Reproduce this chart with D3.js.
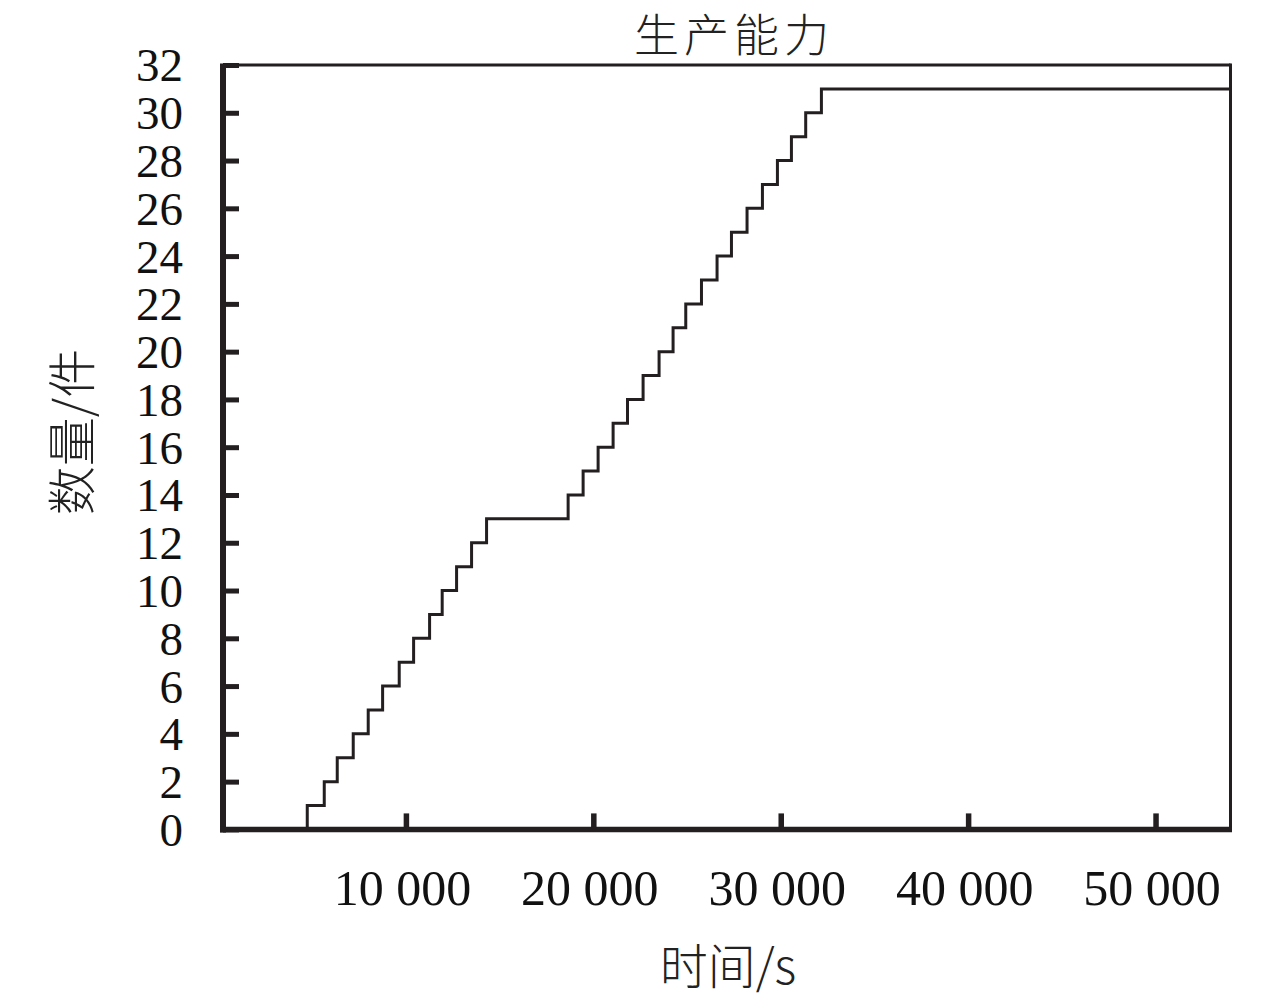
<!DOCTYPE html>
<html><head><meta charset="utf-8">
<script src="https://cdn.jsdelivr.net/npm/d3@7"></script>
<style>body{margin:0;background:#fff;} svg{display:block;}</style>
</head><body>
<svg id="chart" width="1280" height="1002"></svg>
<script>
// Time (s) at which each count level is reached
const stepTimes = [240, 4736, 5643, 6336, 7189, 7989, 8757, 9643, 10411, 11264, 11936, 12704, 13504, 14304,
  18656, 19456, 20256, 21056, 21824, 22656, 23509, 24256, 24933, 25771, 26603, 27371, 28203, 29024, 29824, 30571, 31333, 32171, 54000];
const stepCounts = [0, 1, 2, 3, 4, 5, 6, 7, 8, 9, 10, 11, 12, 13,
  14, 15, 16, 17, 18, 19, 20, 21, 22, 23, 24, 25, 26, 27, 28, 29, 30, 31, 31];
const xTickValues = [10000, 20000, 30000, 40000, 50000];
const yTickValues = [0, 2, 4, 6, 8, 10, 12, 14, 16, 18, 20, 22, 24, 26, 28, 30, 32];
const titleText = "生产能力";
const xTitle = "时间/s";
const yTitle = "数量/件";

const ink = "#231f20";
const svg = d3.select("#chart");
const L = 223, R = 1230.5, T = 65, B = 829.4;
const x = d3.scaleLinear().domain([240, 54000]).range([L, R]);
const y = d3.scaleLinear().domain([0, 32]).range([B, T]);
const serif = "'Liberation Serif', 'Times New Roman', serif";
const cjk = "'Noto Sans CJK SC', sans-serif";

// frame: top and right
svg.append("line").attr("x1", L).attr("x2", R).attr("y1", T).attr("y2", T)
  .attr("stroke", ink).attr("stroke-width", 3);
svg.append("line").attr("x1", R).attr("x2", R).attr("y1", T - 1.5).attr("y2", B + 2)
  .attr("stroke", ink).attr("stroke-width", 3);

// data line
const pts = stepTimes.map((t, i) => [t, stepCounts[i]]);
svg.append("path").datum(pts)
  .attr("d", d3.line().x(d => x(d[0])).y(d => y(d[1])).curve(d3.curveStepAfter))
  .attr("fill", "none").attr("stroke", ink).attr("stroke-width", 3);

// y axis
const yAxis = svg.append("g").attr("transform", `translate(${L},0)`)
  .call(d3.axisLeft(y).tickValues(yTickValues).tickSize(-16).tickPadding(40).tickFormat(d3.format("d")));
yAxis.select(".domain").attr("stroke", ink).attr("stroke-width", 6)
  .attr("d", `M0,${T - 1.5}V${B + 3}`);
yAxis.selectAll(".tick line").attr("stroke", ink).attr("stroke-width", 5);
yAxis.selectAll(".tick text").attr("fill", "#111").style("font-family", serif).style("font-size", "47px")
  .attr("dy", "0.34em");

// x axis
const xAxis = svg.append("g").attr("transform", `translate(0,${B})`)
  .call(d3.axisBottom(x).tickValues(xTickValues).tickSize(-16).tickPadding(40)
    .tickFormat(d => d3.format(",")(d).replace(",", " ")));
xAxis.select(".domain").attr("stroke", ink).attr("stroke-width", 5.5)
  .attr("d", `M${L - 3},0H${R + 1.5}`);
xAxis.selectAll(".tick text").attr("fill", "#111").style("font-family", serif).style("font-size", "50px")
  .attr("dx", "-4");
xAxis.selectAll(".tick line").attr("stroke", ink).attr("stroke-width", 5.5);

// titles
svg.append("text").attr("x", 734).attr("y", 52).attr("text-anchor", "middle")
  .style("font-family", cjk).style("font-size", "45px").style("font-weight", 300)
  .style("letter-spacing", "5px").attr("fill", "#222").text(titleText);
svg.append("text").attr("x", 728).attr("y", 984).attr("text-anchor", "middle")
  .style("font-family", cjk).style("font-size", "48px").style("font-weight", 300).attr("fill", "#222").text(xTitle);
svg.append("text").attr("transform", "translate(90,432) rotate(-90)").attr("text-anchor", "middle")
  .style("font-family", cjk).style("font-size", "49px").style("font-weight", 300).attr("fill", "#222").text(yTitle);
</script>
</body></html>
